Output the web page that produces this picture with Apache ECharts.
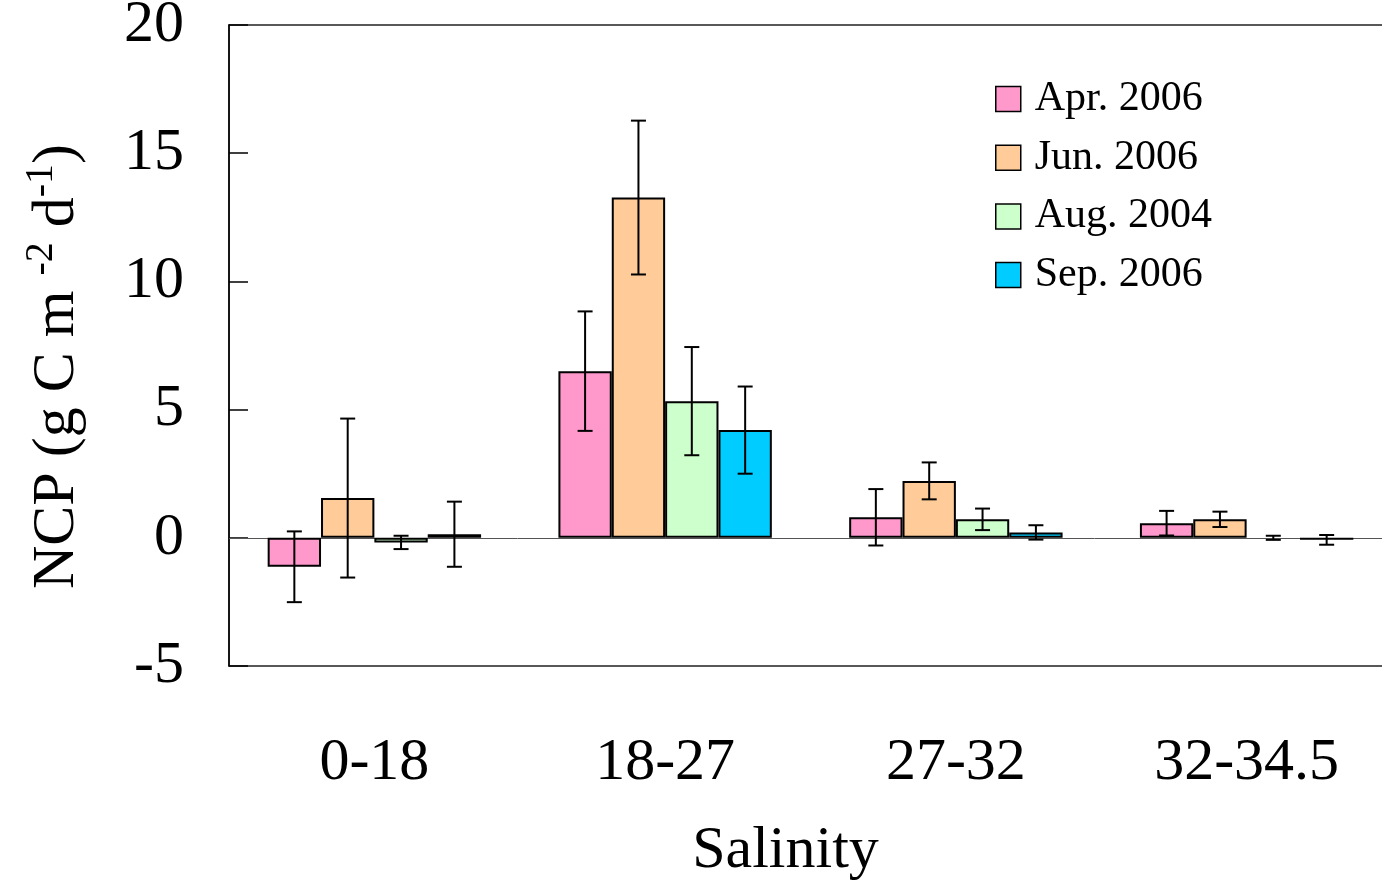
<!DOCTYPE html>
<html>
<head>
<meta charset="utf-8">
<title>NCP by salinity</title>
<script src="https://cdn.jsdelivr.net/npm/echarts@6/dist/echarts.min.js"></script>
<style>
  html, body { margin: 0; padding: 0; background: #fff; }
  #chart { width: 1382px; height: 882px; }
</style>
</head>
<body>
<div id="chart"></div>
<script>
// Salinity classes and NCP (g C m-2 d-1) with ± error per cruise
const categories = ['0-18', '18-27', '27-32', '32-34.5'];
const seriesNames = ['Apr. 2006', 'Jun. 2006', 'Aug. 2004', 'Sep. 2006'];
const yTicks = [-5, 0, 5, 10, 15, 20];

const aprValues = [-1.13, 6.5, 0.8, 0.57];
const aprErrors = [1.38, 2.33, 1.1, 0.48];
const junValues = [1.55, 13.27, 2.22, 0.72];
const junErrors = [3.1, 3.0, 0.72, 0.3];
const augValues = [-0.18, 5.33, 0.72, 0];
const augErrors = [0.26, 2.11, 0.42, 0.08];
const sepValues = [0.14, 4.2, 0.21, -0.08];
const sepErrors = [1.27, 1.7, 0.28, 0.19];

const valueSets = [aprValues, junValues, augValues, sepValues];
const errorSets = [aprErrors, junErrors, augErrors, sepErrors];
const colors = ['#FF99CC', '#FFCC99', '#CCFFCC', '#00CCFF'];

const FONT = "'Liberation Serif', 'Times New Roman', serif";
const BAR_RATIO = 0.1835;   // bar width as a share of the category band
const CAP_HALF = 7.5;

const barSeries = valueSets.map((vals, i) => ({
  name: seriesNames[i],
  type: 'bar',
  barWidth: (BAR_RATIO * 100) + '%',
  barGap: '0%',
  itemStyle: { color: colors[i], borderColor: '#000', borderWidth: 2 },
  data: vals.map(v => v === 0 ? { value: v, itemStyle: { borderWidth: 0 } } : v),
  z: 2,
  markLine: i === 0 ? {
    silent: true,
    symbol: 'none',
    label: { show: false },
    lineStyle: { color: '#555', width: 1, type: 'solid' },
    data: [{ yAxis: 0 }],
    z: 1
  } : undefined
}));

const errorSeries = valueSets.map((vals, i) => ({
  name: seriesNames[i] + ' err',
  type: 'custom',
  z: 5,
  encode: { x: 0, y: 1 },
  data: vals.map((v, k) => [k, v, errorSets[i][k]]),
  renderItem: function (params, api) {
    const cat = api.value(0), v = api.value(1), e = api.value(2);
    const band = api.size([1, 0])[0];
    const off = (i - 1.5) * band * BAR_RATIO;
    const hi = api.coord([cat, v + e]);
    const lo = api.coord([cat, v - e]);
    const x = hi[0] + off;
    const st = { stroke: '#000', lineWidth: 2 };
    return {
      type: 'group',
      children: [
        { type: 'line', shape: { x1: x, y1: hi[1], x2: x, y2: lo[1] }, style: st },
        { type: 'line', shape: { x1: x - CAP_HALF, y1: hi[1], x2: x + CAP_HALF, y2: hi[1] }, style: st },
        { type: 'line', shape: { x1: x - CAP_HALF, y1: lo[1], x2: x + CAP_HALF, y2: lo[1] }, style: st }
      ]
    };
  }
}));

const chart = echarts.init(document.getElementById('chart'));
chart.setOption({
  animation: false,
  backgroundColor: '#fff',
  textStyle: { fontFamily: FONT, color: '#000' },
  grid: {
    left: 229, top: 25, width: 1163, height: 641,
    outerBoundsMode: 'none',
    containLabel: false,
    show: true, borderColor: '#222', borderWidth: 1.5, backgroundColor: 'transparent'
  },
  legend: {
    data: seriesNames,
    orient: 'vertical',
    left: 990, top: 73,
    itemWidth: 25, itemHeight: 25,
    itemGap: 16.7,
    icon: 'rect',
    itemStyle: { borderColor: '#000', borderWidth: 1.5 },
    textStyle: { fontFamily: FONT, fontSize: 42, color: '#000', lineHeight: 42, padding: [0, 0, 0, 9] }
  },
  xAxis: {
    type: 'category',
    data: categories,
    axisLine: { show: false },
    axisTick: { show: false },
    axisLabel: { fontFamily: FONT, fontSize: 60, color: '#000', margin: 67 },
    name: 'Salinity',
    nameLocation: 'middle',
    nameGap: 155,
    nameTextStyle: { fontFamily: FONT, fontSize: 60, color: '#000', padding: [0, 50, 0, 0] }
  },
  yAxis: {
    type: 'value',
    min: yTicks[0], max: yTicks[yTicks.length - 1], interval: 5,
    axisLine: { show: true, lineStyle: { color: '#000', width: 1.5 } },
    axisTick: { show: true, inside: true, length: 19, lineStyle: { color: '#000', width: 1.5 } },
    splitLine: { show: false },
    axisLabel: { fontFamily: FONT, fontSize: 60, color: '#000', margin: 45, padding: [4, 0, 0, 0] },
    name: '{n|NCP (g C m }{s|-2}{n| d}{s|-1}{n|)}',
    nameLocation: 'middle',
    nameGap: 142,
    nameTextStyle: {
      padding: [0, 42, 0, 0],
      rich: {
        n: { fontFamily: FONT, fontSize: 60, color: '#000', lineHeight: 66, verticalAlign: 'bottom' },
        s: { fontFamily: FONT, fontSize: 40, color: '#000', lineHeight: 66, verticalAlign: 'top' }
      }
    }
  },
  series: barSeries.concat(errorSeries)
});
</script>
</body>
</html>
